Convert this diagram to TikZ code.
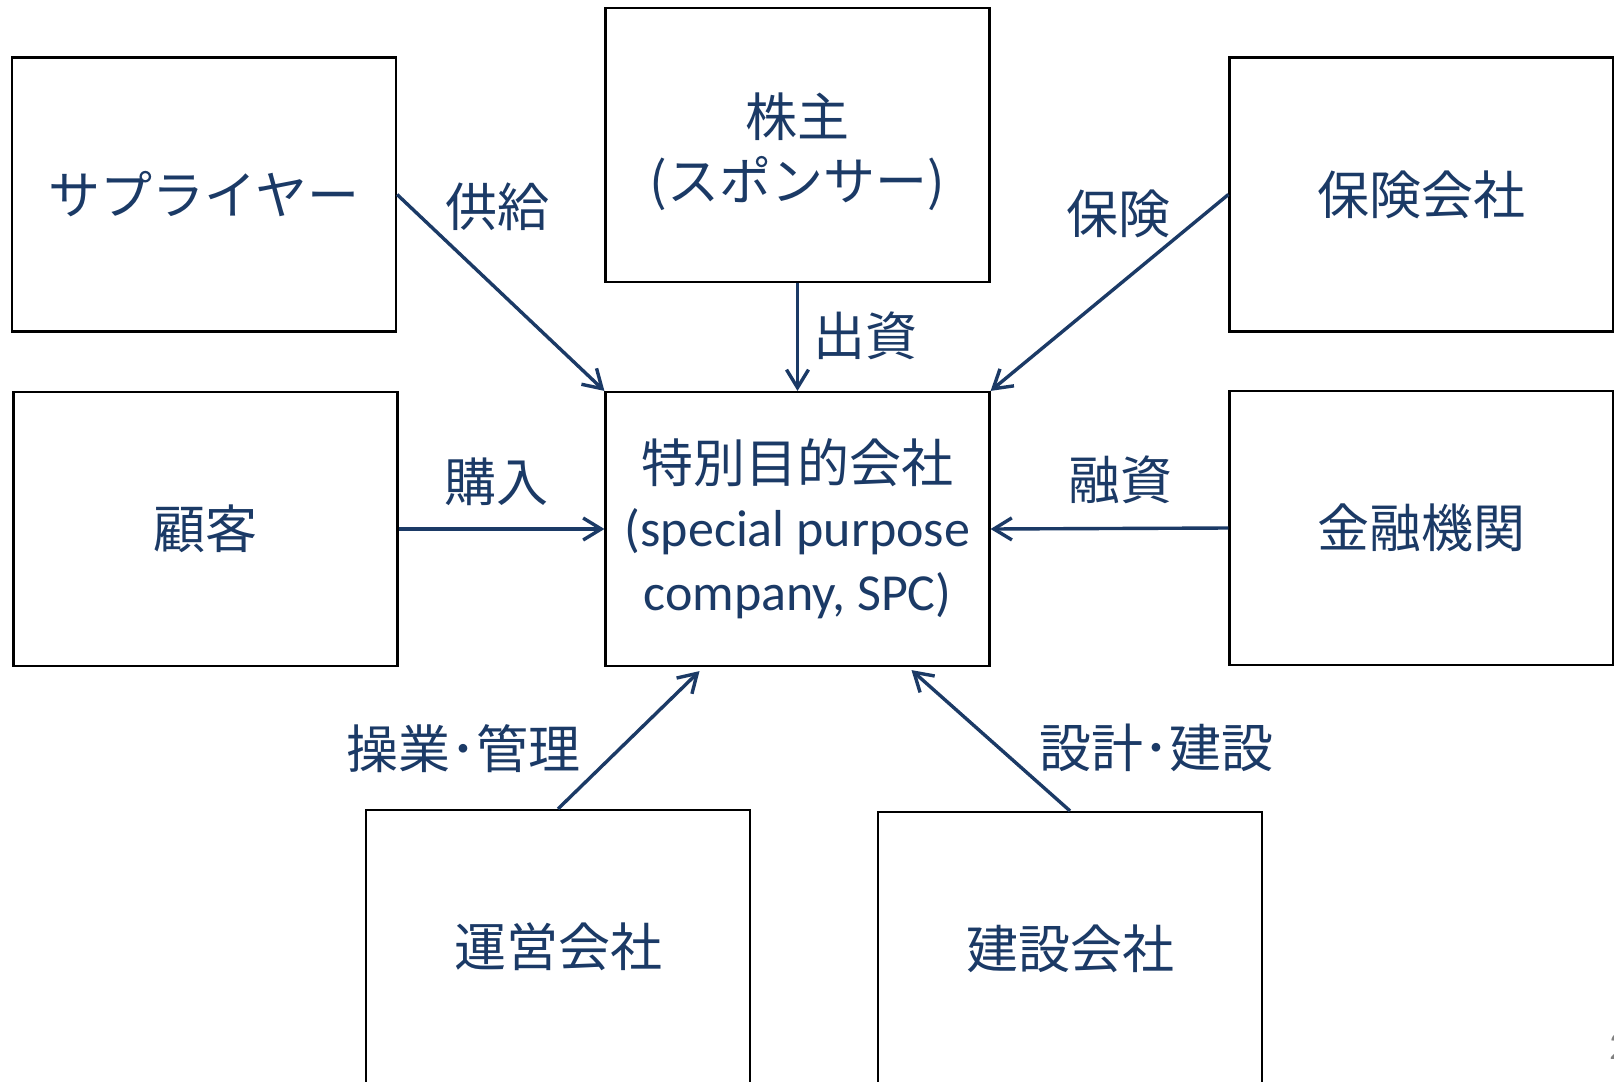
\documentclass[tikz,border=0pt]{standalone}
\usepackage{fontspec}
\setmainfont{Carlito}
\newfontfamily\jp{Noto Sans CJK JP}
\usetikzlibrary{arrows.meta}
\definecolor{navy}{HTML}{1B3A66}
\begin{document}
\begin{tikzpicture}[x=0.5pt,y=-0.5pt,
  box/.style={draw=black, line width=1.1pt, minimum width=192pt, minimum height=137pt,
    inner sep=0pt, text=navy, font=\fontsize{26}{32}\selectfont\jp, align=center},
  lbl/.style={text=navy, font=\fontsize{26}{32}\selectfont\jp, inner sep=0pt},
  conn/.style={draw=navy, line width=1.7pt, -{Straight Barb[length=9pt,width=11pt]}}]
\useasboundingbox (0,0) rectangle (1614,1082);
\fill[white] (0,0) rectangle (1614,1082);

\node[box] (sup)   at (204,194.5)   {サプライヤー};
\node[box, label={[lbl, align=center, yshift=-3.6pt]center:株主\\(スポンサー)}] (share) at (797.5,145) {};
\node[box] (ins)   at (1421.5,194.5){保険会社};
\node[box] (cust)  at (205.5,529)   {顧客};
\node[box] (spc)   at (797.5,529)   {特別目的会社\\{\rmfamily (special purpose}\\{\rmfamily company, SPC)}};
\node[box] (fin)   at (1421.5,528)  {金融機関};
\node[box] (op)    at (558,947)     {運営会社};
\node[box] (con)   at (1070,949)    {建設会社};

\draw[conn] (sup.east) -- (spc.north west);
\draw[conn] (share.south) -- (spc.north);
\draw[conn] (ins.west) -- (spc.north east);
\draw[conn] (cust.east) -- (spc.west);
\draw[conn] (fin.west) -- (spc.east);
\draw[conn] (op.north) -- ([xshift=-49pt,yshift=-2pt]spc.south);
\draw[conn] (con.north) -- ([xshift=57pt,yshift=-1.5pt]spc.south);

\node[lbl] (l1) at (497,206.5) {供給};
\node[lbl] (l2) at (865,336)   {出資};
\node[lbl] (l3) at (1118,214)  {保険};
\node[lbl] (l4) at (496,482)   {購入};
\node[lbl] (l5) at (1120,480)  {融資};
\node[lbl] (l6) at (463,749)   {操業･管理};
\node[lbl] (l7) at (1156,748)  {設計･建設};

\node[text=gray, font=\fontsize{20}{24}\selectfont, anchor=west, inner sep=0pt] (pg) at (1609,1047) {2};
\end{tikzpicture}
\end{document}
